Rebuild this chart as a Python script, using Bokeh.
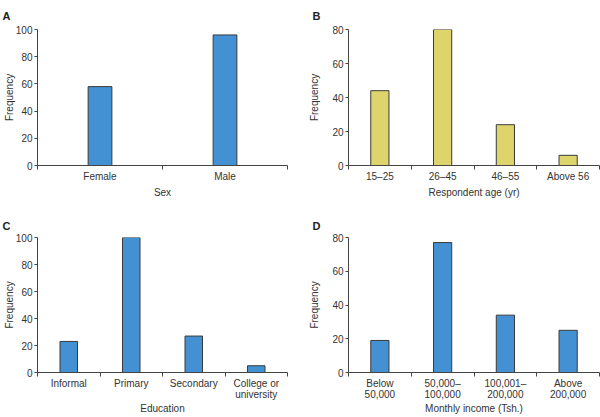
from bokeh.plotting import figure
from bokeh.models import Range1d, FixedTicker
from bokeh.layouts import gridplot
from bokeh.embed import file_html
from bokeh.resources import INLINE

# ---- data ----
sex_cats = ["Female", "Male"]
sex_vals = [58, 96]

age_cats = ["15–25", "26–45", "46–55", "Above 56"]
age_vals = [44, 80, 24, 6]

edu_cats = ["Informal", "Primary", "Secondary", "College or\nuniversity"]
edu_vals = [23, 100, 27, 5]

inc_cats = ["Below\n50,000", "50,000–\n100,000", "100,001–\n200,000", "Above\n200,000"]
inc_vals = [19, 77, 34, 25]

y_ticks_100 = [0, 20, 40, 60, 80, 100]
y_ticks_80 = [0, 20, 40, 60, 80]

BLUE = "#4391D3"
YELLOW = "#DDD56B"
EDGE = "#3a3a3a"
AXIS = "#444444"
TXT = "#333333"
FONT = "Liberation Sans"


def panel(cats, vals, color, letter, xlabel, ymax, yticks, width, height,
          bl, br, bt, bb, barw, ylab_standoff, letter_x, title_standoff,
          xlab_standoff):
    n = len(cats)
    p = figure(width=width, height=height, x_range=Range1d(0, n),
               y_range=Range1d(0, ymax), output_backend="svg",
               toolbar_location=None, min_border_left=bl, min_border_right=br,
               min_border_top=bt, min_border_bottom=bb)
    p.outline_line_color = None
    p.grid.visible = False
    centers = [i + 0.5 for i in range(n)]
    p.vbar(x=centers, top=vals, width=barw, fill_color=color,
           line_color=EDGE, line_width=1)

    xa = p.xaxis[0]
    xa.ticker = FixedTicker(ticks=centers, minor_ticks=list(range(n + 1)))
    xa.major_label_overrides = {c: lab for c, lab in zip(centers, cats)}
    xa.major_tick_out = 0
    xa.major_tick_in = 0
    xa.minor_tick_out = 4
    xa.minor_tick_in = 0
    xa.minor_tick_line_color = AXIS
    xa.axis_label = xlabel
    xa.major_label_standoff = 1
    xa.axis_label_standoff = xlab_standoff
    xa.major_label_text_line_height = 1.05

    ya = p.yaxis[0]
    ya.ticker = FixedTicker(ticks=yticks)
    ya.major_tick_out = 3
    ya.major_tick_in = 0
    ya.minor_tick_out = 0
    ya.minor_tick_in = 0
    ya.axis_label = "Frequency"
    ya.major_label_standoff = 2
    ya.axis_label_standoff = ylab_standoff

    for ax in (xa, ya):
        ax.axis_line_color = AXIS
        ax.major_tick_line_color = AXIS
        ax.major_label_text_font = FONT
        ax.major_label_text_font_size = "10px"
        ax.major_label_text_color = TXT
        ax.axis_label_text_font = FONT
        ax.axis_label_text_font_size = "10px"
        ax.axis_label_text_font_style = "normal"
        ax.axis_label_text_color = TXT

    p.title.text = letter
    p.title.align = "left"
    p.title.offset = letter_x - bl
    p.title.standoff = title_standoff
    p.title.text_font = FONT
    p.title.text_font_style = "bold"
    p.title.text_font_size = "11px"
    p.title.text_color = "#222222"
    return p


pa = panel(sex_cats, sex_vals, BLUE, "A", "Sex", 100, y_ticks_100,
           300, 206, 36, 13, 28, 41, 0.19, -2, 1, 15, 2)
pb = panel(age_cats, age_vals, YELLOW, "B", "Respondent age (yr)", 80, y_ticks_80,
           300, 206, 48, 1, 28, 41, 0.29, 9, 12, 15, 2)
pc = panel(edu_cats, edu_vals, BLUE, "C", "Education", 100, y_ticks_100,
           300, 211, 36, 13, 31, 41, 0.28, -2, 1, 12, 0)
pd = panel(inc_cats, inc_vals, BLUE, "D", "Monthly income (Tsh.)", 80, y_ticks_80,
           300, 211, 48, 1, 31, 41, 0.29, 9, 12, 11, 0)

grid = gridplot([[pa, pb], [pc, pd]], toolbar_location=None)

open("out.html", "w").write(file_html(grid, INLINE))
